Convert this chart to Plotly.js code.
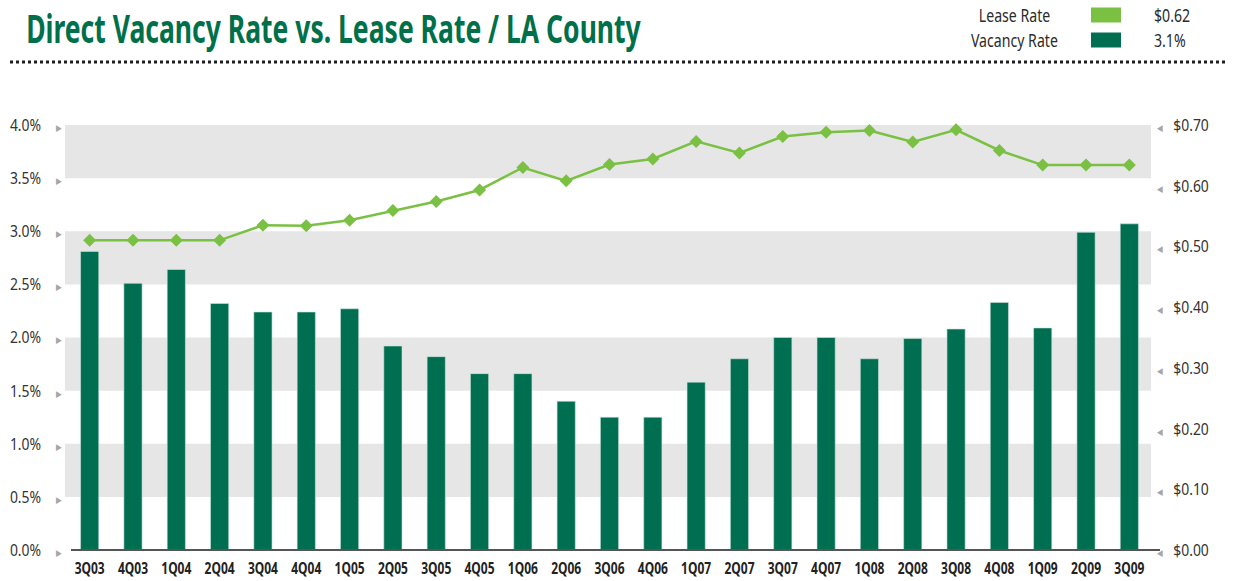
<!DOCTYPE html>
<html>
<head>
<meta charset="utf-8">
<script src="https://cdn.plot.ly/plotly-3.0.1.min.js"></script>
<style>
html,body{margin:0;padding:0;background:#fff;}
#chart{width:1233px;height:581px;}
</style>
</head>
<body>
<div id="chart"></div>
<script>
const quarters = ["3Q03","4Q03","1Q04","2Q04","3Q04","4Q04","1Q05","2Q05","3Q05","4Q05","1Q06","2Q06","3Q06","4Q06","1Q07","2Q07","3Q07","4Q07","1Q08","2Q08","3Q08","4Q08","1Q09","2Q09","3Q09"];
const vacancyRate = [2.81,2.51,2.64,2.32,2.24,2.24,2.27,1.92,1.82,1.66,1.66,1.40,1.25,1.25,1.58,1.80,2.00,2.00,1.80,1.99,2.08,2.33,2.09,2.99,3.07];
const leaseRate = [0.51,0.51,0.51,0.51,0.535,0.534,0.543,0.559,0.574,0.593,0.630,0.608,0.635,0.644,0.673,0.654,0.681,0.688,0.691,0.672,0.692,0.658,0.634,0.634,0.634];
const leftTicks = [0,0.5,1.0,1.5,2.0,2.5,3.0,3.5,4.0];
const leftTickLabels = ["0.0%","0.5%","1.0%","1.5%","2.0%","2.5%","3.0%","3.5%","4.0%"];
const rightTicks = [0,0.1,0.2,0.3,0.4,0.5,0.6,0.7];
const rightTickLabels = ["$0.00","$0.10","$0.20","$0.30","$0.40","$0.50","$0.60","$0.70"];
const bandRanges = [[0.5,1.0],[1.5,2.0],[2.5,3.0],[3.5,4.0]];
const legendItems = [
  {label:"Lease Rate", value:"$0.62", color:"#7ac143"},
  {label:"Vacancy Rate", value:"3.1%", color:"#006f51"}
];
const titleText = "Direct Vacancy Rate vs. Lease Rate / LA County";

const FONT = "Noto Sans, Open Sans, sans-serif";
const BAR = "#006f51", LINE = "#7ac143";

const arrowL = "<span style='color:#a6a6a6;font-size:9px'>&#9654;</span>";
const arrowR = "<span style='color:#a6a6a6;font-size:9px'>&#9664;</span>";

const traces = [
  {type:"bar", x:quarters, y:vacancyRate, yaxis:"y", marker:{color:BAR, line:{color:"#cfe3dc", width:0.6}}, hoverinfo:"x+y", showlegend:false},
  {type:"scatter", mode:"lines+markers", x:quarters, y:leaseRate, yaxis:"y2", line:{color:LINE, width:2.5}, marker:{symbol:"diamond", size:10, color:LINE}, showlegend:false, cliponaxis:false}
];

// pixel helpers (plot area: x 68..1151, y 125..550)
const px = x => (x - 68) / 1083;
const py = y => (550 - y) / 425;

const shapes = bandRanges.map(r => ({type:"rect", xref:"paper", yref:"y", x0:px(65), x1:1, y0:r[0], y1:r[1], fillcolor:"#e6e6e6", line:{width:0}, layer:"below"}));
shapes.push({type:"line", xref:"paper", yref:"paper", x0:px(71), x1:px(1160), y0:0, y1:0, line:{color:"#555", width:2}});
shapes.push({type:"line", xref:"paper", yref:"paper", x0:px(10), x1:px(1228), y0:py(62), y1:py(62), line:{color:"#1e1e1e", width:3, dash:"dot"}});

const annotations = [
  {xref:"paper", yref:"paper", x:px(24), y:py(28), xanchor:"left", yanchor:"middle", showarrow:false,
   text:"<b>" + titleText + "</b>", font:{family:FONT, size:40, color:"#00704a"}}
];
legendItems.forEach((it, i) => {
  const yc = [15, 40][i];
  annotations.push({xref:"paper", yref:"paper", x:px(1014), y:py(yc), xanchor:"center", yanchor:"middle", showarrow:false, text:it.label, font:{family:FONT, size:18, color:"#2b2b2b"}});
  annotations.push({xref:"paper", yref:"paper", x:px(1152), y:py(yc), xanchor:"left", yanchor:"middle", showarrow:false, text:it.value, font:{family:FONT, size:18, color:"#2b2b2b"}});
  shapes.push({type:"rect", xref:"paper", yref:"paper", x0:px(1091), x1:px(1121), y0:py(yc+7.5), y1:py(yc-7.5), fillcolor:it.color, line:{width:0}});
});

const layout = {
  width:1233, height:581,
  margin:{l:68, r:82, t:125, b:31, pad:0},
  paper_bgcolor:"#fff", plot_bgcolor:"rgba(0,0,0,0)",
  bargap:0.58,
  font:{family:FONT, color:"#2b2b2b"},
  xaxis:{type:"category", range:[-0.5, quarters.length - 0.5], showgrid:false, zeroline:false, showline:false, ticks:"",
         tickfont:{family:FONT, size:16, color:"#222", weight:700}, ticklabelstandoff:7, fixedrange:true},
  yaxis:{range:[0,4], tickvals:leftTicks, ticktext:leftTickLabels.map(t => t + "&nbsp;&nbsp;&nbsp;&nbsp;" + arrowL),
         showgrid:false, zeroline:false, showline:false, ticks:"",
         tickfont:{family:FONT, size:17, color:"#333"}, ticklabelstandoff:6, fixedrange:true},
  yaxis2:{range:[0,0.7], overlaying:"y", side:"right", tickvals:rightTicks, ticktext:rightTickLabels.map(t => arrowR + "&nbsp;&nbsp;&nbsp;" + t),
          showgrid:false, zeroline:false, showline:false, ticks:"",
          tickfont:{family:FONT, size:17, color:"#333"}, ticklabelstandoff:5, fixedrange:true},
  shapes:shapes,
  annotations:annotations,
  showlegend:false
};

// horizontally condense a text element (emulates the condensed typeface of the original)
function condense(t, s, origin) {
  const NS = "http://www.w3.org/2000/svg";
  const g = document.createElementNS(NS, "g");
  t.parentNode.insertBefore(g, t);
  g.appendChild(t);
  const bb = g.getBBox();
  const ox = origin === "left" ? bb.x : origin === "right" ? bb.x + bb.width : bb.x + bb.width / 2;
  g.setAttribute("transform", `translate(${ox},0) scale(${s},1) translate(${-ox},0)`);
}

Plotly.newPlot("chart", traces, layout, {displayModeBar:false, staticPlot:true}).then(gd => {
  const ann = i => gd.querySelector(`.annotation[data-index="${i}"] .annotation-text`);
  const title = ann(0);
  if (title) condense(title, 615 / title.getBBox().width, "left");
  const ref = ann(3);
  const ls = ref ? 87 / ref.getBBox().width : 0.8;
  [1, 3].forEach(i => { const t = ann(i); if (t) condense(t, ls, "center"); });
  [2, 4].forEach(i => { const t = ann(i); if (t) condense(t, ls, "left"); });
  gd.querySelectorAll(".xtick text").forEach(t => condense(t, 0.75, "center"));
  gd.querySelectorAll(".ytick text").forEach(t => condense(t, 0.82, "right"));
  gd.querySelectorAll(".y2tick text").forEach(t => condense(t, 0.82, "left"));
});
</script>
</body>
</html>
